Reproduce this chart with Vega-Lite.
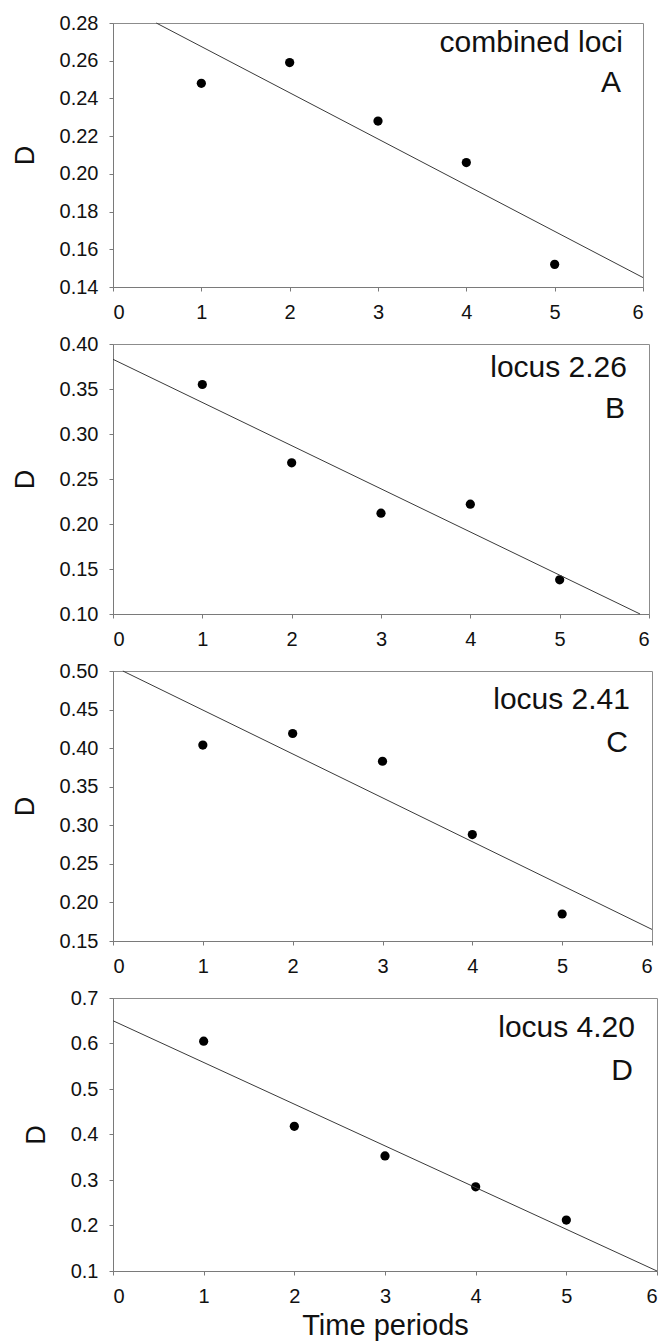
{
  "$schema": "https://vega.github.io/schema/vega-lite/v6.json",
  "background": "white",
  "padding": {"left": 10, "top": 12, "right": 0, "bottom": 0},
  "spacing": 10,
  "config": {
    "font": "Liberation Sans",
    "view": {"stroke": "#8c8c8c", "strokeWidth": 1},
    "scale": {"zero": false},
    "axis": {
      "labelFont": "Liberation Sans",
      "labelFontSize": 20,
      "labelColor": "#111",
      "labelOverlap": false,
      "titleFont": "Liberation Sans",
      "titleFontWeight": "normal",
      "titleColor": "#111",
      "domainColor": "#7a7a7a",
      "tickColor": "#7a7a7a",
      "tickSize": 4,
      "grid": false
    },
    "axisY": {"labelPadding": 11, "titleFontSize": 27, "titlePadding": 20},
    "axisX": {"labelPadding": 11, "titleFontSize": 29, "titlePadding": 5, "format": "d"},
    "text": {"font": "Liberation Sans", "fontSize": 30, "color": "#111", "align": "right", "baseline": "alphabetic"}
  },
  "vconcat": [
    {
      "width": 530,
      "height": 264,
      "layer": [
        {
          "data": {"values": [{"t": 1, "D": 0.248}, {"t": 2, "D": 0.259}, {"t": 3, "D": 0.228}, {"t": 4, "D": 0.206}, {"t": 5, "D": 0.152}]},
          "mark": {"type": "point", "filled": true, "color": "black", "opacity": 1, "size": 85},
          "encoding": {
            "x": {"field": "t", "type": "quantitative", "scale": {"domain": [0, 6], "nice": false}, "axis": {"values": [0, 1, 2, 3, 4, 5, 6], "tickCount": 20, "title": null}},
            "y": {"field": "D", "type": "quantitative", "scale": {"domain": [0.14, 0.28], "nice": false}, "axis": {"values": [0.14, 0.16, 0.18, 0.2, 0.22, 0.24, 0.26, 0.28], "tickCount": 20, "format": ".2f", "title": "D"}}
          }
        },
        {
          "data": {"values": [{"t": 0.49, "D": 0.28}, {"t": 6, "D": 0.145}]},
          "mark": {"type": "line", "color": "#3a3a3a", "strokeWidth": 1},
          "encoding": {"x": {"field": "t", "type": "quantitative"}, "y": {"field": "D", "type": "quantitative"}}
        },
        {
          "data": {"values": [{"note": "combined loci"}]},
          "mark": {"type": "text", "dx": -20, "dy": 29},
          "encoding": {"x": {"datum": 6, "type": "quantitative"}, "y": {"datum": 0.28, "type": "quantitative"}, "text": {"field": "note"}}
        },
        {
          "data": {"values": [{"note": "A"}]},
          "mark": {"type": "text", "dx": -22, "dy": 69},
          "encoding": {"x": {"datum": 6, "type": "quantitative"}, "y": {"datum": 0.28, "type": "quantitative"}, "text": {"field": "note"}}
        }
      ]
    },
    {
      "width": 536,
      "height": 270,
      "layer": [
        {
          "data": {"values": [{"t": 1, "D": 0.355}, {"t": 2, "D": 0.268}, {"t": 3, "D": 0.212}, {"t": 4, "D": 0.222}, {"t": 5, "D": 0.138}]},
          "mark": {"type": "point", "filled": true, "color": "black", "opacity": 1, "size": 85},
          "encoding": {
            "x": {"field": "t", "type": "quantitative", "scale": {"domain": [0, 6], "nice": false}, "axis": {"values": [0, 1, 2, 3, 4, 5, 6], "tickCount": 20, "title": null}},
            "y": {"field": "D", "type": "quantitative", "scale": {"domain": [0.1, 0.4], "nice": false}, "axis": {"values": [0.1, 0.15, 0.2, 0.25, 0.3, 0.35, 0.4], "tickCount": 20, "format": ".2f", "title": "D"}}
          }
        },
        {
          "data": {"values": [{"t": 0, "D": 0.383}, {"t": 5.9, "D": 0.1}]},
          "mark": {"type": "line", "color": "#3a3a3a", "strokeWidth": 1},
          "encoding": {"x": {"field": "t", "type": "quantitative"}, "y": {"field": "D", "type": "quantitative"}}
        },
        {
          "data": {"values": [{"note": "locus 2.26"}]},
          "mark": {"type": "text", "dx": -22, "dy": 33},
          "encoding": {"x": {"datum": 6, "type": "quantitative"}, "y": {"datum": 0.4, "type": "quantitative"}, "text": {"field": "note"}}
        },
        {
          "data": {"values": [{"note": "B"}]},
          "mark": {"type": "text", "dx": -24, "dy": 74},
          "encoding": {"x": {"datum": 6, "type": "quantitative"}, "y": {"datum": 0.4, "type": "quantitative"}, "text": {"field": "note"}}
        }
      ]
    },
    {
      "width": 539,
      "height": 270,
      "layer": [
        {
          "data": {"values": [{"t": 1, "D": 0.404}, {"t": 2, "D": 0.419}, {"t": 3, "D": 0.383}, {"t": 4, "D": 0.288}, {"t": 5, "D": 0.185}]},
          "mark": {"type": "point", "filled": true, "color": "black", "opacity": 1, "size": 85},
          "encoding": {
            "x": {"field": "t", "type": "quantitative", "scale": {"domain": [0, 6], "nice": false}, "axis": {"values": [0, 1, 2, 3, 4, 5, 6], "tickCount": 20, "title": null}},
            "y": {"field": "D", "type": "quantitative", "scale": {"domain": [0.15, 0.5], "nice": false}, "axis": {"values": [0.15, 0.2, 0.25, 0.3, 0.35, 0.4, 0.45, 0.5], "tickCount": 20, "format": ".2f", "title": "D"}}
          }
        },
        {
          "data": {"values": [{"t": 0.11, "D": 0.5}, {"t": 6, "D": 0.165}]},
          "mark": {"type": "line", "color": "#3a3a3a", "strokeWidth": 1},
          "encoding": {"x": {"field": "t", "type": "quantitative"}, "y": {"field": "D", "type": "quantitative"}}
        },
        {
          "data": {"values": [{"note": "locus 2.41"}]},
          "mark": {"type": "text", "dx": -22, "dy": 38},
          "encoding": {"x": {"datum": 6, "type": "quantitative"}, "y": {"datum": 0.5, "type": "quantitative"}, "text": {"field": "note"}}
        },
        {
          "data": {"values": [{"note": "C"}]},
          "mark": {"type": "text", "dx": -24, "dy": 81},
          "encoding": {"x": {"datum": 6, "type": "quantitative"}, "y": {"datum": 0.5, "type": "quantitative"}, "text": {"field": "note"}}
        }
      ]
    },
    {
      "width": 544,
      "height": 273,
      "layer": [
        {
          "data": {"values": [{"t": 1, "D": 0.605}, {"t": 2, "D": 0.418}, {"t": 3, "D": 0.353}, {"t": 4, "D": 0.285}, {"t": 5, "D": 0.212}]},
          "mark": {"type": "point", "filled": true, "color": "black", "opacity": 1, "size": 85},
          "encoding": {
            "x": {"field": "t", "type": "quantitative", "scale": {"domain": [0, 6], "nice": false}, "axis": {"values": [0, 1, 2, 3, 4, 5, 6], "tickCount": 20, "title": "Time periods"}},
            "y": {"field": "D", "type": "quantitative", "scale": {"domain": [0.1, 0.7], "nice": false}, "axis": {"values": [0.1, 0.2, 0.3, 0.4, 0.5, 0.6, 0.7], "tickCount": 20, "format": ".1f", "title": "D"}}
          }
        },
        {
          "data": {"values": [{"t": 0, "D": 0.65}, {"t": 6, "D": 0.1}]},
          "mark": {"type": "line", "color": "#3a3a3a", "strokeWidth": 1},
          "encoding": {"x": {"field": "t", "type": "quantitative"}, "y": {"field": "D", "type": "quantitative"}}
        },
        {
          "data": {"values": [{"note": "locus 4.20"}]},
          "mark": {"type": "text", "dx": -22, "dy": 39},
          "encoding": {"x": {"datum": 6, "type": "quantitative"}, "y": {"datum": 0.7, "type": "quantitative"}, "text": {"field": "note"}}
        },
        {
          "data": {"values": [{"note": "D"}]},
          "mark": {"type": "text", "dx": -24, "dy": 82},
          "encoding": {"x": {"datum": 6, "type": "quantitative"}, "y": {"datum": 0.7, "type": "quantitative"}, "text": {"field": "note"}}
        }
      ]
    }
  ]
}
